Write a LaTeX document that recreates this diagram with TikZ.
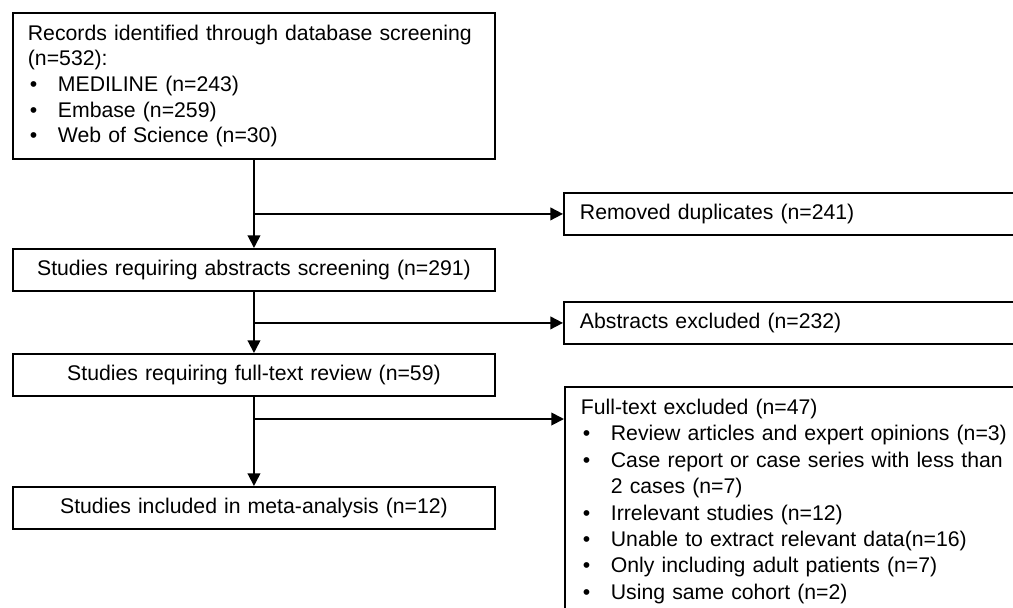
\documentclass[tikz,border=0pt]{standalone}
\usepackage{fontspec}
\setmainfont{Liberation Sans}
\usetikzlibrary{arrows.meta}
\newcommand{\bul}{\makebox[0.75cm][l]{\hspace{0.05cm}\textbullet}}
\tikzset{
  leftbox/.style={draw, line width=1.3pt, anchor=north west, minimum width=12.05cm, minimum height=1.05cm, text width=11.3cm, inner xsep=0.375cm, align=center},
  rightbox/.style={draw, line width=1.3pt, anchor=north west, minimum width=12cm, minimum height=1.05cm, text width=11.2cm, inner xsep=0.4cm, align=left},
  arr/.style={line width=1.3pt, -{Triangle[length=9pt,width=9pt]}}
}
\begin{document}
\begin{tikzpicture}[x=0.025cm, y=-0.025cm, font=\fontsize{15.1pt}{18.2pt}\selectfont]
\clip (0,0) rectangle (1013,607);
\node[leftbox, minimum height=3.65cm, align=left] at (12, 12) (rec) {Records identified through database screening\\(n=532):\\\bul MEDILINE (n=243)\\\bul Embase (n=259)\\\bul Web of Science (n=30)};
\node[leftbox] at (12, 248) (abs) {Studies requiring abstracts screening (n=291)};
\node[leftbox] at (12, 353) (rev) {Studies requiring full-text review (n=59)};
\node[leftbox] at (12, 486) (inc) {Studies included in meta-analysis (n=12)};
\node[rightbox] at (563, 192) (dup) {Removed duplicates (n=241)};
\node[rightbox] at (563, 301) (axc) {Abstracts excluded (n=232)};
\node[rightbox, inner ysep=0.3cm, font=\fontsize{15.1pt}{18.8pt}\selectfont] at (564, 386) (ftx) {Full-text excluded (n=47)\\
\bul Review articles and expert opinions (n=3)\\
\bul Case report or case series with less than\\
\hspace*{0.75cm}2 cases (n=7)\\
\bul Irrelevant studies (n=12)\\
\bul Unable to extract relevant data(n=16)\\
\bul Only including adult patients (n=7)\\
\bul Using same cohort (n=2)\rule[-1cm]{0pt}{0pt}};
\coordinate (b1) at (rec.south |- dup.west);
\coordinate (b2) at (abs.south |- axc.west);
\coordinate (b3) at (253, 419);
\path[arr]  (rec) edge (abs)
            (abs) edge (rev)
            (rev) edge (inc)
            (b1) edge (dup.west)
            (b2) edge (axc.west)
            (b3) edge (b3 -| ftx.west);
\end{tikzpicture}
\end{document}
